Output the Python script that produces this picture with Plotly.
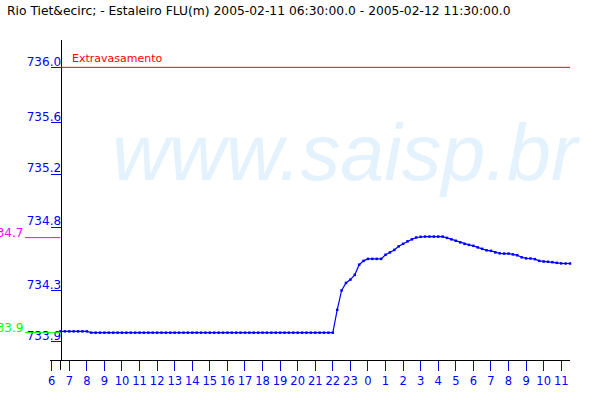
import pandas as pd
import plotly.graph_objects as go

# ---- data ----
start_time = "2005-02-11 06:30"
end_time = "2005-02-12 11:30"
times = pd.date_range(start_time, end_time, freq="15min")

level_flat_start = [734.00, 734.00, 734.00, 734.00, 734.00, 734.00, 734.00]
level_flat = [
    733.99, 733.99, 733.99, 733.99, 733.99, 733.99, 733.99, 733.99,
    733.99, 733.99, 733.99, 733.99, 733.99, 733.99, 733.99, 733.99,
    733.99, 733.99, 733.99, 733.99, 733.99, 733.99, 733.99, 733.99,
    733.99, 733.99, 733.99, 733.99, 733.99, 733.99, 733.99, 733.99,
    733.99, 733.99, 733.99, 733.99, 733.99, 733.99, 733.99, 733.99,
    733.99, 733.99, 733.99, 733.99, 733.99, 733.99, 733.99, 733.99,
    733.99, 733.99, 733.99, 733.99, 733.99, 733.99, 733.99, 733.99,
]
level_rise = [
    734.163, 734.310, 734.367, 734.392, 734.428, 734.505, 734.534,
    734.549, 734.549, 734.549, 734.549, 734.580, 734.598, 734.617, 734.644,
    734.663, 734.682, 734.697, 734.711, 734.716, 734.718, 734.718, 734.718,
    734.718, 734.718, 734.708, 734.697, 734.686, 734.674, 734.663, 734.655,
    734.648, 734.636, 734.625, 734.614, 734.610, 734.598, 734.591, 734.589,
    734.589, 734.583, 734.576, 734.561, 734.553, 734.552, 734.547, 734.534,
    734.529, 734.527, 734.524, 734.519, 734.515, 734.514, 734.514,
]
levels = level_flat_start + level_flat + level_rise

y_tick_vals = [736.0, 735.58, 735.19, 734.79, 734.31, 733.92]
y_tick_text = ["736.0", "735.6", "735.2", "734.8", "734.3", "733.9"]
x_tick_vals = pd.date_range("2005-02-11 06:00", "2005-02-12 11:00", freq="1h")
x_tick_text = ["6", "7", "8", "9", "10", "11", "12", "13", "14", "15", "16", "17",
               "18", "19", "20", "21", "22", "23", "0", "1", "2", "3", "4", "5",
               "6", "7", "8", "9", "10", "11"]

overflow_level = 736.0
overflow_label = "Extravasamento"
max_level = 734.71
max_label = "734.7"
min_level = 733.99
min_label = "733.9"
title_text = "Rio Tiet&ecirc; - Estaleiro FLU(m) 2005-02-11 06:30:00.0 - 2005-02-12 11:30:00.0"
watermark = "www.saisp.br"

BLUE = "#0000ff"
x_range = ["2005-02-11 05:54:08", "2005-02-12 11:30:00"]
y_range = [733.783, 736.207]

fig = go.Figure()
fig.add_trace(go.Scatter(
    x=times, y=levels, mode="lines+markers",
    line=dict(color=BLUE, width=1.2),
    marker=dict(symbol="square", size=2.5, color=BLUE, line=dict(width=0)),
    hoverinfo="skip", showlegend=False, cliponaxis=False,
))

# overflow reference line
fig.add_shape(type="line", xref="x", yref="y", x0=times[0], x1=times[-1],
              y0=overflow_level, y1=overflow_level, line=dict(color="#ff0000", width=1))
# max / min side markers
fig.add_shape(type="line", xref="paper", yref="y", x0=-0.048, x1=0.0202,
              y0=max_level, y1=max_level, line=dict(color="#ff00ff", width=1))
fig.add_shape(type="line", xref="paper", yref="y", x0=-0.048, x1=0.0202,
              y0=min_level, y1=min_level, line=dict(color="#00ff00", width=1))
# y axis extension below the x axis
fig.add_shape(type="line", xref="x", yref="paper", x0=times[0], x1=times[0],
              y0=-0.031, y1=0, line=dict(color="black", width=1))

fig.add_annotation(text=overflow_label, xref="paper", yref="y", x=0.0385, y=overflow_level,
                   xanchor="left", yanchor="bottom", showarrow=False, yshift=0,
                   font=dict(family="DejaVu Sans", size=11, color="#ff0000"))
fig.add_annotation(text=max_label, xref="paper", yref="y", x=-0.048, y=max_level,
                   xanchor="right", yanchor="bottom", showarrow=False, yshift=-4,
                   font=dict(family="DejaVu Sans", size=12, color="#ff00ff"))
fig.add_annotation(text=min_label, xref="paper", yref="y", x=-0.048, y=min_level,
                   xanchor="right", yanchor="bottom", showarrow=False, yshift=-4,
                   font=dict(family="DejaVu Sans", size=12, color="#00ff00"))
fig.add_annotation(text=watermark, xref="paper", yref="paper", x=0.115, y=0.647,
                   xanchor="left", yanchor="middle", showarrow=False,
                   font=dict(family="Liberation Sans", size=79, color="#e3f2fd", style="italic"))

fig.update_layout(
    width=600, height=400,
    margin=dict(l=50, r=30, t=40, b=40, autoexpand=False),
    paper_bgcolor="white", plot_bgcolor="white",
    title=dict(text=title_text, x=7 / 600, xref="container", xanchor="left",
               y=1 - 11 / 400, yref="container", yanchor="middle",
               font=dict(family="DejaVu Sans", size=12.3, color="black")),
    xaxis=dict(range=x_range, type="date", tickmode="array", tickvals=x_tick_vals,
               ticktext=x_tick_text, tickangle=0, ticks="outside", ticklen=10,
               tickcolor=BLUE, tickwidth=1, showline=True, linecolor="black",
               linewidth=1, showgrid=False, zeroline=False, automargin=False,
               tickfont=dict(family="DejaVu Sans", size=11.5, color=BLUE)),
    yaxis=dict(range=y_range, tickmode="array", tickvals=y_tick_vals, ticktext=y_tick_text,
               anchor="free", position=0.0202, ticks="outside", ticklen=10,
               tickcolor=BLUE, tickwidth=1, showline=True, linecolor="black",
               linewidth=1, showgrid=False, zeroline=False, automargin=False,
               ticklabelstandoff=-13, ticklabelshift=-6,
               tickfont=dict(family="DejaVu Sans", size=12, color=BLUE)),
    hovermode=False,
)

fig.write_html("out.html", config={"displayModeBar": False},
               post_script="document.body.style.margin='0';")
